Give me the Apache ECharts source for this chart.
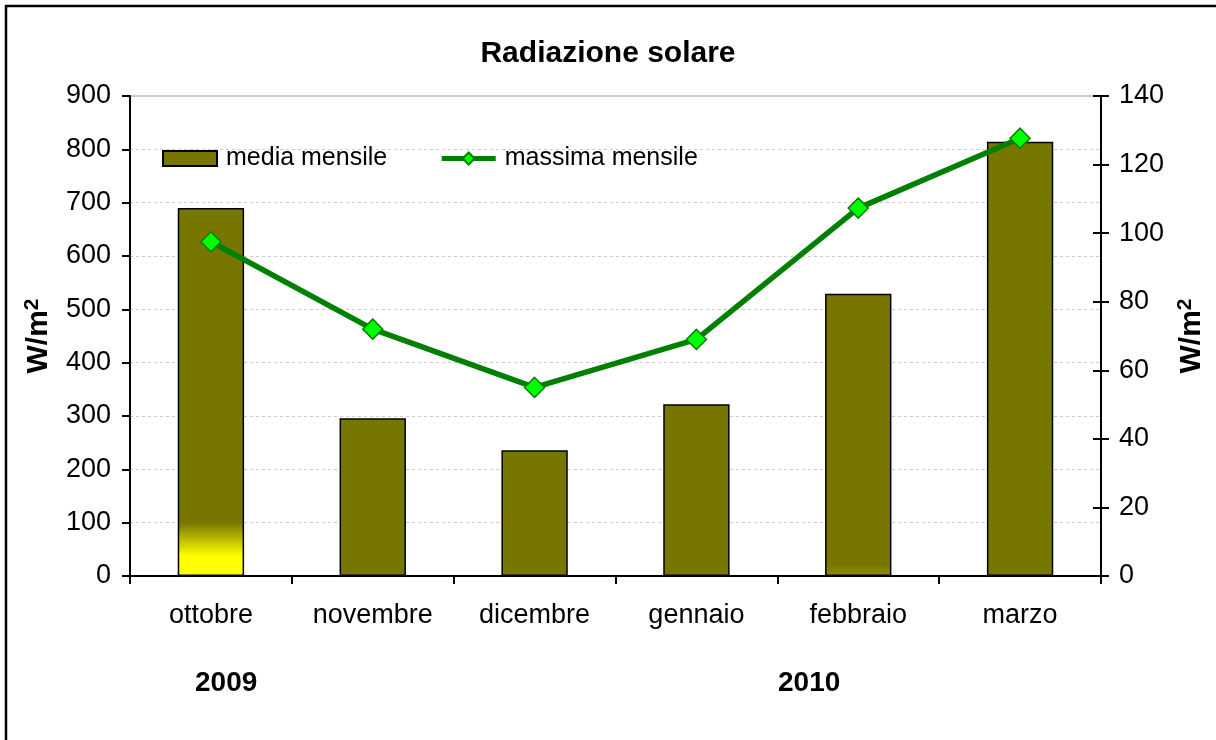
<!DOCTYPE html>
<html>
<head>
<meta charset="utf-8">
<title>Radiazione solare</title>
<script src="https://cdn.jsdelivr.net/npm/echarts@6/dist/echarts.min.js"></script>
<style>
    html, body { margin: 0; padding: 0; background: #fff; }
    #chart { width: 1216px; height: 740px; }
</style>
</head>
<body>
<div id="chart"></div>
<script>
// dati
var mesi = ['ottobre', 'novembre', 'dicembre', 'gennaio', 'febbraio', 'marzo'];
var mediaMensile = [690, 296, 236, 322, 529, 814];
var massimaMensile = [97.5, 72, 55, 69, 107.3, 127.7];
var anni = ['2009', '2010'];

var oliva = '#777700';
var font = 'Liberation Sans, Arial, sans-serif';

var chart = echarts.init(document.getElementById('chart'));

// barre: ottobre e febbraio hanno una sfumatura verso il basso
var barData = mediaMensile.map(function (v, i) {
    var item = { value: v };
    if (i === 0) {
        item.itemStyle = {
            color: new echarts.graphic.LinearGradient(0, 0, 0, 1, [
                { offset: 0, color: oliva },
                { offset: 0.855, color: oliva },
                { offset: 0.945, color: '#ffff00' },
                { offset: 1, color: '#ffff00' }
            ])
        };
    } else if (i === 4) {
        item.itemStyle = {
            color: new echarts.graphic.LinearGradient(0, 0, 0, 1, [
                { offset: 0, color: oliva },
                { offset: 0.96, color: oliva },
                { offset: 1, color: '#8f8f00' }
            ])
        };
    }
    return item;
});

var nomeAsse = {
    fontFamily: font, fontSize: 30, fontWeight: 'bold', color: '#000',
    rich: {
        base: { fontFamily: font, fontSize: 30, fontWeight: 'bold', color: '#000', lineHeight: 34 },
        sup: { fontFamily: font, fontSize: 21, fontWeight: 'bold', color: '#000', lineHeight: 34, verticalAlign: 'top', padding: [0, 0, 12, 0] }
    }
};

var option = {
    backgroundColor: '#fff',
    animation: false,
    textStyle: { fontFamily: font },
    title: {
        text: 'Radiazione solare',
        left: 'center',
        top: 34,
        textStyle: { fontFamily: font, fontSize: 30, fontWeight: 'bold', color: '#000' }
    },
    legend: {
        left: 157,
        top: 141,
        itemWidth: 54,
        itemHeight: 15,
        itemGap: 52,
        textStyle: { fontFamily: font, fontSize: 25, color: '#000', padding: [0, 0, 0, 4] },
        data: [
            { name: 'media mensile', icon: 'rect' },
            { name: 'massima mensile', lineStyle: { width: 5 } }
        ]
    },
    grid: { left: 130, right: 112, top: 96, bottom: 164, show: true, borderColor: '#999', borderWidth: 1 },
    xAxis: {
        type: 'category',
        data: mesi,
        axisLine: { lineStyle: { color: '#000', width: 2 } },
        axisTick: { show: true, length: 8, lineStyle: { color: '#000', width: 2 } },
        axisLabel: { fontFamily: font, fontSize: 27, color: '#000', margin: 26 }
    },
    yAxis: [{
        type: 'value',
        min: 0, max: 900, interval: 100,
        name: '{base|W/m}{sup|2}',
        nameLocation: 'middle',
        nameRotate: 90,
        nameGap: 72,
        nameTextStyle: nomeAsse,
        axisLine: { show: true, lineStyle: { color: '#000', width: 2 } },
        axisTick: { show: true, length: 8, lineStyle: { color: '#000', width: 2 } },
        axisLabel: { fontFamily: font, fontSize: 27, color: '#000', margin: 19 },
        splitLine: { show: true, lineStyle: { color: '#ccc', type: [3, 3], width: 1 } }
    }, {
        type: 'value',
        position: 'right',
        min: 0, max: 140, interval: 20,
        name: '{base|W/m}{sup|2}',
        nameLocation: 'middle',
        nameRotate: 90,
        nameGap: 74,
        nameTextStyle: nomeAsse,
        axisLine: { show: true, lineStyle: { color: '#000', width: 2 } },
        axisTick: { show: true, length: 8, lineStyle: { color: '#000', width: 2 } },
        axisLabel: { fontFamily: font, fontSize: 27, color: '#000', margin: 18 },
        splitLine: { show: false }
    }, {
        // solo per i trattini interni dell'asse destro
        type: 'value',
        position: 'right',
        min: 0, max: 140, interval: 20,
        axisLine: { show: false },
        axisTick: { show: true, inside: true, length: 8, lineStyle: { color: '#000', width: 2 } },
        axisLabel: { show: false },
        splitLine: { show: false }
    }],
    series: [{
        name: 'media mensile',
        type: 'bar',
        yAxisIndex: 0,
        barWidth: '41%',
        itemStyle: { color: oliva, borderColor: '#000', borderWidth: 1.5 },
        data: barData
    }, {
        name: 'massima mensile',
        type: 'line',
        yAxisIndex: 1,
        symbol: 'diamond',
        symbolSize: 20,
        lineStyle: { color: '#008000', width: 5.5 },
        itemStyle: { color: '#00ff00', borderColor: '#008000', borderWidth: 1.5 },
        data: massimaMensile
    }],
    graphic: [{
        type: 'rect',
        shape: { x: 6, y: 6, width: 1230, height: 760 },
        style: { fill: 'none', stroke: '#000', lineWidth: 2.5 },
        silent: true
    }, {
        type: 'text',
        left: 195, top: 669,
        style: { text: anni[0], font: 'bold 28px ' + font, fill: '#000' }
    }, {
        type: 'text',
        left: 778, top: 669,
        style: { text: anni[1], font: 'bold 28px ' + font, fill: '#000' }
    }]
};

chart.setOption(option);
</script>
</body>
</html>
